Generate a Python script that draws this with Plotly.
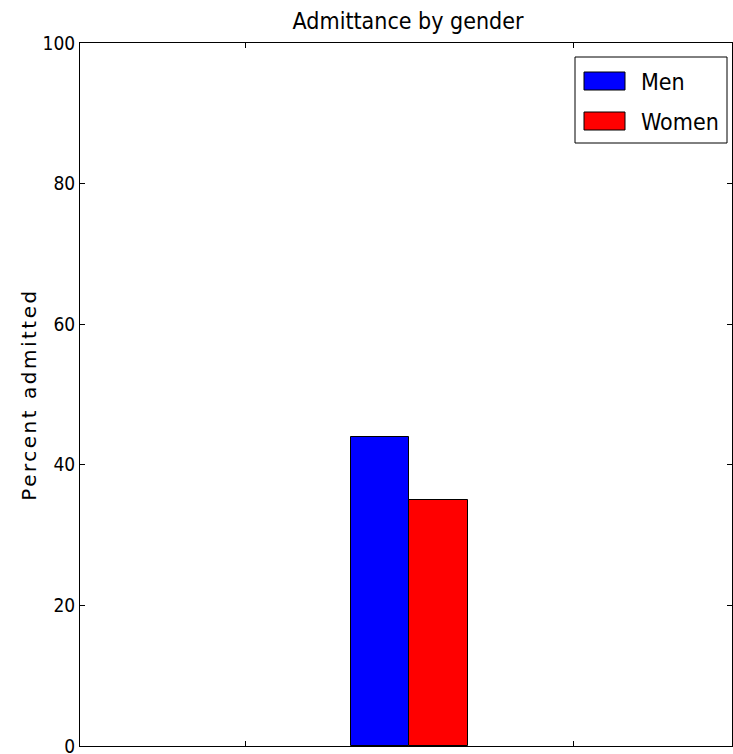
import plotly.graph_objects as go

groups = [0.5]
men_pct = [44]
women_pct = [35]
series_names = ["Men", "Women"]
series_colors = ["#0000ff", "#ff0000"]
y_ticks = [0, 20, 40, 60, 80, 100]

W, H = 733, 754
ML, MR, MT, MB = 80, 1, 43, 8
PW, PH = W - ML - MR, H - MT - MB

def px_x(x):
    return (x - ML) / PW

def px_y(y):
    return (H - MB - y) / PH

fig = go.Figure()
fig.add_trace(go.Bar(x=groups, y=men_pct, name=series_names[0], width=0.177, offset=-0.177,
                     marker=dict(color=series_colors[0], line=dict(color="black", width=1))))
fig.add_trace(go.Bar(x=groups, y=women_pct, name=series_names[1], width=0.177, offset=0,
                     marker=dict(color=series_colors[1], line=dict(color="black", width=1))))

font_c = "DejaVu Sans Condensed, DejaVu Sans, sans-serif"

shapes = [dict(type="rect", xref="paper", yref="paper", x0=px_x(575), x1=px_x(727),
               y0=px_y(143), y1=px_y(57), line=dict(color="black", width=1), fillcolor="white", layer="above")]
annotations = []
rows = [(72, 90, 82), (112, 130, 122)]
for (y0, y1, yc), name, col in zip(rows, series_names, series_colors):
    shapes.append(dict(type="rect", xref="paper", yref="paper", x0=px_x(584), x1=px_x(625),
                       y0=px_y(y1), y1=px_y(y0), line=dict(color="black", width=1), fillcolor=col, layer="above"))
    annotations.append(dict(text=name, xref="paper", yref="paper", x=px_x(639), y=px_y(yc),
                            xanchor="left", yanchor="middle", showarrow=False,
                            font=dict(family=font_c, size=23, color="black")))

fig.update_layout(
    width=W, height=H,
    margin=dict(l=ML, r=MR, t=MT, b=MB, autoexpand=False),
    paper_bgcolor="white", plot_bgcolor="white",
    title=dict(text="Admittance by gender", x=(408/W), xanchor="center", y=1-21/H, yanchor="middle",
               font=dict(family=font_c, size=23, color="black")),
    showlegend=False,
    shapes=shapes, annotations=annotations,
    bargap=0,
)
fig.update_xaxes(range=[-0.503, 1.482], tickvals=[0, 1], showticklabels=False, automargin=False,
                 ticks="inside", ticklen=5, tickcolor="black", showline=True, linecolor="black",
                 linewidth=1, mirror="ticks", showgrid=False, zeroline=False)
fig.update_yaxes(range=[0, 100], tickvals=y_ticks, ticks="inside", ticklen=5, tickcolor="black",
                 showline=True, linecolor="black", linewidth=1, mirror="ticks", showgrid=False,
                 zeroline=False, ticklabeloverflow="allow", automargin=False,
                 tickfont=dict(family=font_c, size=19, color="black"),
                 title=dict(text='<span style="letter-spacing:2.5px">Percent admitted</span>',
                            font=dict(family="DejaVu Sans", size=20, color="black"),
                            standoff=0))
fig.write_html("out.html", config={"displayModeBar": False},
               post_script="document.body.style.margin='0';document.body.style.overflow='hidden';")
